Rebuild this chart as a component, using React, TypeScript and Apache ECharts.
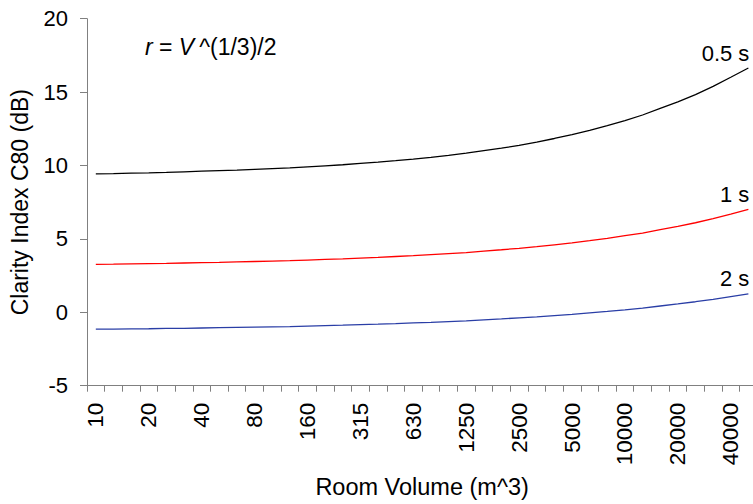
import React, { useEffect, useRef } from "react";
import * as echarts from "echarts";

// Room volumes (m^3) on a third-octave style progression; every third one is labelled.
const volumes: string[] = [
  "10", "12.5", "16", "20", "25", "31.5", "40", "50", "63", "80",
  "100", "125", "160", "200", "250", "315", "400", "500", "630", "800",
  "1000", "1250", "1600", "2000", "2500", "3150", "4000", "5000", "6300", "8000",
  "10000", "12500", "16000", "20000", "25000", "31500", "40000", "50000",
];

// Clarity index C80 (dB) for three reverberation times.
const c80_05s: number[] = [
  9.43, 9.45, 9.48, 9.5, 9.53, 9.57, 9.61, 9.65, 9.69, 9.74,
  9.79, 9.84, 9.91, 9.98, 10.05, 10.14, 10.23, 10.33, 10.44, 10.56,
  10.69, 10.84, 11.01, 11.18, 11.37, 11.59, 11.84, 12.1, 12.39, 12.72,
  13.06, 13.44, 13.89, 14.34, 14.83, 15.39, 16.01, 16.64,
];
const c80_1s: number[] = [
  3.27, 3.28, 3.3, 3.32, 3.33, 3.36, 3.38, 3.4, 3.43, 3.46,
  3.49, 3.52, 3.56, 3.6, 3.64, 3.69, 3.74, 3.8, 3.86, 3.93,
  4.0, 4.07, 4.17, 4.26, 4.36, 4.47, 4.6, 4.73, 4.88, 5.04,
  5.22, 5.4, 5.63, 5.86, 6.1, 6.38, 6.69, 7.01,
];
const c80_2s: number[] = [
  -1.15, -1.14, -1.13, -1.12, -1.1, -1.09, -1.07, -1.05, -1.03, -1.01,
  -0.99, -0.97, -0.94, -0.91, -0.88, -0.84, -0.81, -0.77, -0.72, -0.68,
  -0.63, -0.58, -0.51, -0.45, -0.38, -0.31, -0.22, -0.14, -0.04, 0.06,
  0.17, 0.29, 0.43, 0.57, 0.72, 0.88, 1.07, 1.26,
];

const seriesNames: string[] = ["0.5 s", "1 s", "2 s"];
const seriesColors: string[] = ["#000000", "#ff0000", "#2a3ea6"];

const FONT = "'Liberation Sans', Arial, sans-serif";

export default function App() {
  const ref = useRef<HTMLDivElement>(null);

  useEffect(() => {
    if (!ref.current) return;
    const chart = echarts.init(ref.current, null, { renderer: "svg" });

    const makeSeries = (name: string, values: number[], color: string) => ({
      name,
      type: "line",
      data: values,
      showSymbol: false,
      symbol: "none",
      lineStyle: { color, width: 1.3 },
      itemStyle: { color },
      emphasis: { disabled: true },
      endLabel: {
        show: true,
        formatter: "{a}",
        align: "right",
        verticalAlign: "bottom",
        distance: 0,
        offset: [1, -4],
        color: "#000",
        fontSize: 22,
        fontFamily: FONT,
      },
    });

    chart.setOption({
      animation: false,
      backgroundColor: "#ffffff",
      textStyle: { fontFamily: FONT },
      grid: { left: 85.7, right: 2.8, top: 18.7, bottom: 118.3 },
      xAxis: {
        type: "category",
        data: volumes,
        boundaryGap: true,
        name: "Room Volume (m^3)",
        nameLocation: "middle",
        nameGap: 89,
        nameTextStyle: { color: "#000", fontSize: 23.5, fontFamily: FONT },
        axisLine: { onZero: false, lineStyle: { color: "#808080", width: 1 } },
        axisTick: { show: true, interval: 0, length: 6, lineStyle: { color: "#808080" } },
        axisLabel: {
          interval: 2,
          rotate: 90,
          margin: 17,
          color: "#000",
          fontSize: 22.5,
          fontFamily: FONT,
        },
        splitLine: { show: false },
      },
      yAxis: {
        type: "value",
        min: -5,
        max: 20,
        interval: 5,
        name: "Clarity Index C80 (dB)",
        nameLocation: "middle",
        nameGap: 56,
        nameTextStyle: { color: "#000", fontSize: 23, fontFamily: FONT },
        axisLine: { show: true, lineStyle: { color: "#808080", width: 1 } },
        axisTick: { show: true, length: 7, lineStyle: { color: "#808080" } },
        axisLabel: { margin: 19, color: "#000", fontSize: 22, fontFamily: FONT },
        splitLine: { show: false },
      },
      series: [
        makeSeries(seriesNames[0], c80_05s, seriesColors[0]),
        makeSeries(seriesNames[1], c80_1s, seriesColors[1]),
        makeSeries(seriesNames[2], c80_2s, seriesColors[2]),
      ],
      graphic: [
        {
          type: "text",
          x: 145,
          y: 47,
          style: {
            text: "{it|r} = {itv|V}^(1/3)/2",
            fontSize: 23,
            fontFamily: FONT,
            fill: "#000",
            verticalAlign: "middle",
            rich: {
              it: { fontStyle: "italic", fontSize: 23, fontFamily: FONT },
              itv: { fontStyle: "italic", fontSize: 23, fontFamily: FONT, padding: [0, 5, 0, 0] },
            },
          },
        },
      ],
    });

    return () => chart.dispose();
  }, []);

  return (
    <div
      style={{
        position: "fixed",
        left: 0,
        top: 0,
        width: 753,
        height: 504,
        overflow: "hidden",
        background: "#fff",
      }}
    >
      <div ref={ref} style={{ width: 760, height: 504 }} />
    </div>
  );
}
